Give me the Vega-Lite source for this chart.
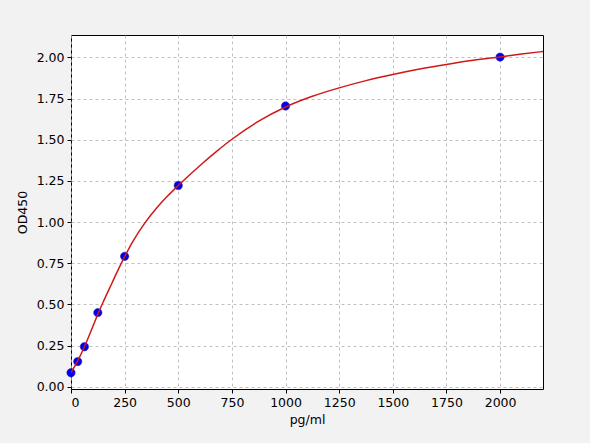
{
  "$schema": "https://vega.github.io/schema/vega-lite/v6.json",
  "width": 472,
  "height": 354,
  "autosize": {"type": "none"},
  "padding": {"left": 71, "top": 35, "right": 47, "bottom": 54},
  "background": "#f2f2f2",
  "config": {
    "view": {"stroke": "#000000", "strokeWidth": 1, "fill": "#ffffff"},
    "font": "DejaVu Sans",
    "axis": {
      "labelFont": "DejaVu Sans",
      "titleFont": "DejaVu Sans",
      "labelFontSize": 12.5,
      "titleFontSize": 12.5,
      "titleFontWeight": "normal",
      "labelColor": "#000000",
      "titleColor": "#000000",
      "tickColor": "#000000",
      "tickSize": 4,
      "labelPadding": 3,
      "domain": false,
      "gridColor": "#b0b0b0",
      "gridDash": [3, 3],
      "gridWidth": 0.8
    }
  },
  "datasets": {
    "standards": [
      {"conc": 0, "od": 0.085},
      {"conc": 31.25, "od": 0.153},
      {"conc": 62.5, "od": 0.243},
      {"conc": 125, "od": 0.45},
      {"conc": 250, "od": 0.792},
      {"conc": 500, "od": 1.222},
      {"conc": 1000, "od": 1.705},
      {"conc": 2000, "od": 2.002}
    ],
    "fit": [
      {"conc": 0, "od": 0.085},
      {"conc": 31.25, "od": 0.157},
      {"conc": 62.5, "od": 0.243},
      {"conc": 100, "od": 0.36},
      {"conc": 125, "od": 0.44},
      {"conc": 150, "od": 0.515},
      {"conc": 190, "od": 0.627},
      {"conc": 228, "od": 0.733},
      {"conc": 250, "od": 0.79},
      {"conc": 290, "od": 0.886},
      {"conc": 343, "od": 0.992},
      {"conc": 400, "od": 1.087},
      {"conc": 450, "od": 1.158},
      {"conc": 500, "od": 1.222},
      {"conc": 560, "od": 1.295},
      {"conc": 612, "od": 1.356},
      {"conc": 680, "od": 1.431},
      {"conc": 750, "od": 1.503},
      {"conc": 875, "od": 1.613},
      {"conc": 1000, "od": 1.699},
      {"conc": 1125, "od": 1.764},
      {"conc": 1250, "od": 1.815},
      {"conc": 1375, "od": 1.859},
      {"conc": 1500, "od": 1.896},
      {"conc": 1625, "od": 1.929},
      {"conc": 1750, "od": 1.957},
      {"conc": 1875, "od": 1.982},
      {"conc": 2000, "od": 2.003},
      {"conc": 2100, "od": 2.02},
      {"conc": 2200, "od": 2.036}
    ]
  },
  "encoding": {
    "x": {
      "field": "conc",
      "type": "quantitative",
      "title": "pg/ml",
      "scale": {"domain": [0, 2200], "nice": false, "zero": false},
      "axis": {"values": [0, 250, 500, 750, 1000, 1250, 1500, 1750, 2000], "format": "d", "titlePadding": 5}
    },
    "y": {
      "field": "od",
      "type": "quantitative",
      "title": "OD450",
      "scale": {"domain": [-0.0135, 2.136], "nice": false, "zero": false},
      "axis": {"values": [0, 0.25, 0.5, 0.75, 1, 1.25, 1.5, 1.75, 2], "format": ".2f", "titlePadding": 7}
    }
  },
  "layer": [
    {
      "data": {"name": "standards"},
      "mark": {"type": "point", "filled": true, "size": 70, "color": "#0000ee", "opacity": 1, "stroke": "#1f1fb4", "strokeWidth": 0.5}
    },
    {
      "data": {"name": "fit"},
      "mark": {"type": "line", "color": "#d01818", "strokeWidth": 1.5, "interpolate": "monotone", "clip": true}
    }
  ]
}
